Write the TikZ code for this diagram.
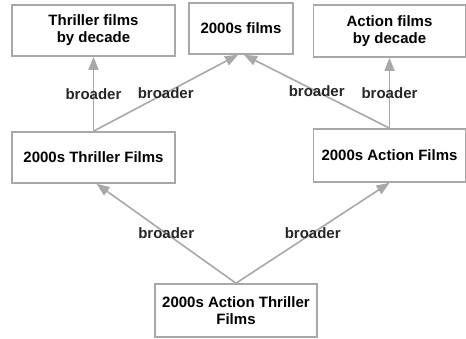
\documentclass[tikz,border=0pt]{standalone}
\usepackage{fontspec}
\setmainfont{Liberation Sans}
\usetikzlibrary{arrows.meta}

\begin{document}
\begin{tikzpicture}[x=1pt, y=-1pt,
    cat/.style={draw=gray!68, line width=1.6pt, align=center, inner sep=0pt, font=\bfseries\fontsize{15}{17}\selectfont},
    rel/.style={draw=gray!68, line width=1.6pt, -{Triangle[length=13pt,width=10pt]}},
    lbl/.style={font=\bfseries\fontsize{15}{17}\selectfont, text=black!85}]
    \useasboundingbox (0,0) rectangle (466,338);
    \node[cat, minimum width=163pt, minimum height=51pt] (thrdec) at (93.5,30.5) {Thriller films\\by decade};
    \node[cat, minimum width=104pt, minimum height=51pt] (films) at (241,28.5) {2000s films};
    \node[cat, minimum width=152pt, minimum height=52pt] (actdec) at (389.5,31) {Action films\\by decade};
    \node[cat, minimum width=163pt, minimum height=51pt] (thr) at (93.5,157.5) {2000s Thriller Films};
    \node[cat, minimum width=152pt, minimum height=53pt] (act) at (389.5,155.5) {2000s Action Films};
    \node[cat, minimum width=162pt, minimum height=53pt] (actthr) at (236,310.5) {2000s Action Thriller\\Films};
    \coordinate (filmsL) at ([xshift=-3pt]films.south);
    \coordinate (filmsR) at ([xshift=3pt]films.south);
    \coordinate (thrR) at ([xshift=3pt]thr.south);

    \foreach \a/\b in {thr.north/thrdec.south, thr.north/filmsL, act.north/filmsR, act.north/actdec.south, actthr.north/thrR, actthr.north/act.south}
        \draw[rel] (\a) -- (\b) node[midway, lbl] {broader};
\end{tikzpicture}
\end{document}
